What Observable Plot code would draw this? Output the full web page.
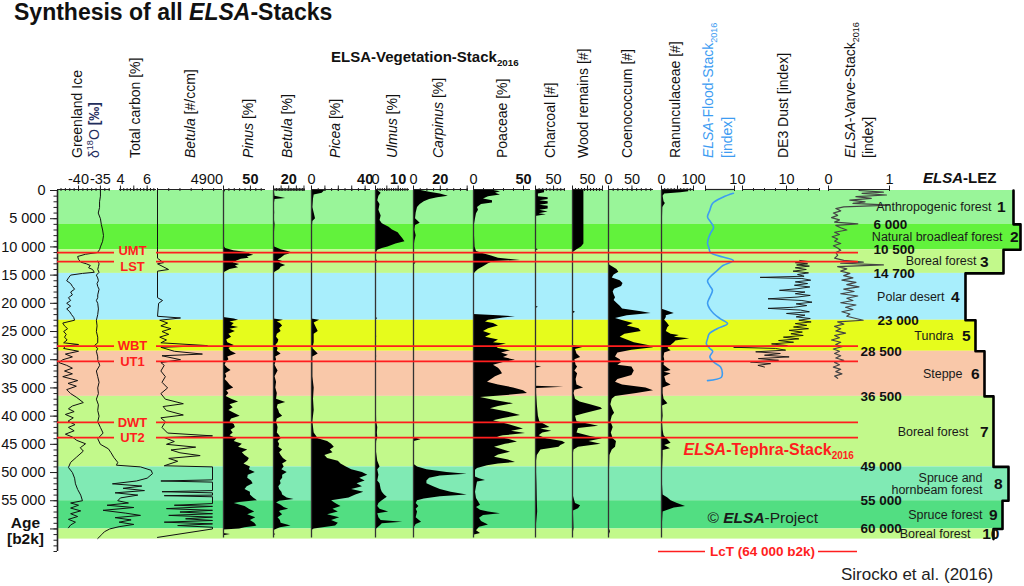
<!DOCTYPE html>
<html><head><meta charset="utf-8">
<script src="https://cdn.jsdelivr.net/npm/d3@7"></script>
<script src="https://cdn.jsdelivr.net/npm/@observablehq/plot@0.6"></script>
<style>
body{margin:0;background:#fff;}
#wrap{position:relative;width:1024px;height:586px;overflow:hidden;font-family:"Liberation Sans",Arial,sans-serif;color:#111;}
#wrap svg{position:absolute;left:0;top:0;background:transparent;}
.h{position:absolute;white-space:nowrap;line-height:1;}
.rot{position:absolute;white-space:nowrap;transform-origin:0 0;transform:rotate(-90deg);font-size:14px;line-height:16px;}
sub,sup{font-size:65%;line-height:0;}
</style></head><body><div id="wrap"></div><script>
// ================= DATA =================
const zoneNames = ["Anthropogenic forest","Natural broadleaf forest","Boreal forest","Polar desert","Tundra","Steppe","Boreal forest","Spruce and\nhornbeam forest","Spruce forest","Boreal forest"];
const zoneStart = [0,6000,10500,14700,23000,28500,36500,49000,55000,60000];
const zoneEnd   = [6000,10500,14700,23000,28500,36500,49000,55000,60000,61800];
const tephraNames = ["UMT","LST","WBT","UT1","DWT","UT2"];
const tephraAges  = [11000,12600,27600,30300,41100,43800];

// [age b2k, value]
const d18O = [[0,-35.0],[1000,-35.0],[2000,-35.2],[3000,-35.2],[4000,-35.5],[5000,-35.0],[6000,-34.8],[7000,-34.5],[8000,-34.3],[9000,-34.5],[10000,-35.0],[10500,-35.2],[11000,-35.7],[11300,-38.4],[11700,-40.2],[12200,-40.0],[12700,-39.5],[13000,-38.2],[13300,-37.3],[13700,-37.7],[14000,-36.8],[14500,-36.4],[14700,-39.1],[15000,-41.8],[15500,-42.3],[16000,-42.7],[16500,-41.8],[17000,-41.4],[17500,-40.9],[18000,-41.8],[18500,-41.4],[19000,-42.3],[19500,-41.8],[20000,-42.7],[20500,-41.8],[21000,-42.7],[21500,-42.0],[22000,-41.6],[22500,-41.1],[23000,-40.9],[23500,-43.6],[24000,-43.2],[24500,-42.5],[25000,-43.4],[25500,-42.8],[26000,-43.2],[26500,-42.6],[27000,-43.4],[27300,-40.0],[27600,-43.0],[28000,-43.4],[28500,-40.0],[29000,-43.0],[29500,-41.4],[30000,-43.6],[30500,-44.5],[31000,-42.7],[31500,-41.4],[32000,-43.2],[32500,-41.4],[33000,-43.6],[33700,-40.2],[34200,-42.4],[34700,-40.5],[35300,-42.7],[36000,-41.8],[36700,-40.4],[37600,-38.9],[38200,-41.4],[38700,-42.3],[39200,-41.0],[39700,-43.0],[40300,-41.2],[40900,-42.4],[41500,-40.8],[42000,-42.3],[42600,-41.0],[43200,-43.0],[43700,-41.4],[44300,-40.4],[44900,-38.4],[45600,-39.6],[46200,-38.9],[47300,-40.5],[48200,-41.8],[49100,-42.3],[50000,-41.4],[51000,-40.9],[52000,-40.7],[53000,-40.2],[54000,-39.5],[55000,-39.1],[55400,-41.8],[55800,-40.0],[56300,-41.8],[56800,-39.5],[57300,-41.8],[57800,-40.2],[58300,-42.3],[58800,-40.7],[59300,-41.8],[59800,-42.3]];
const totalCarbon = [[12500,2.3],[13000,2.4],[13500,2.35],[14000,2.3],[14500,2.4],[15000,2.2],[15500,2.3],[16000,2.35],[16500,2.25],[17000,2.3],[17500,2.4],[18000,2.35],[18500,2.3],[19000,2.3],[19500,2.2],[20000,2.3],[21000,2.35],[22000,2.3],[23000,2.2],[24000,2.25],[25000,2.2],[26000,2.3],[27000,2.3],[27500,2.05],[28000,2.3],[28500,2.2],[29500,2.3],[30000,2.3],[31000,2.45],[32000,2.2],[33000,2.3],[34000,2.4],[35000,2.3],[36000,2.35],[37000,2.2],[38000,2.35],[39000,2.3],[40000,2.4],[41000,2.3],[42000,2.5],[43000,2.7],[44000,2.3],[45000,2.5],[45800,3.1],[46500,3.3],[47300,3.5],[48200,3.8],[48700,3.7],[49000,5.5],[49600,6.3],[50200,6.4],[51000,6.0],[51500,5.2],[52000,3.4],[52400,5.6],[52800,4.2],[53200,5.8],[53600,3.6],[54000,5.3],[54500,4.0],[55000,3.8],[55400,4.6],[55800,3.0],[56200,5.0],[56700,2.7],[57200,4.4],[57600,5.5],[58000,3.6],[58400,4.8],[58800,3.9],[59200,5.0],[59600,3.9],[60000,3.2],[60500,2.8],[61000,2.6],[61700,2.3]];
const betulaConc = [[0,0],[10000,0],[12000,0],[12800,530],[13000,0],[14000,980],[14300,0],[19000,0],[19500,450],[20000,100],[22300,0],[22600,2050],[23000,200],[23500,900],[24000,300],[24500,1200],[25000,400],[25500,1000],[26000,200],[26500,800],[27000,300],[27500,4450],[27800,300],[28500,1500],[29000,4000],[29300,400],[30000,2050],[30500,300],[31000,600],[32000,300],[33000,700],[34000,400],[35000,900],[36000,300],[37000,700],[37800,2300],[38300,500],[39000,800],[39800,2300],[40300,300],[41000,700],[42000,400],[43000,900],[43500,4900],[43800,600],[44500,1500],[45000,800],[45500,3400],[46000,1200],[46500,2000],[47000,3800],[47500,1000],[48000,1800],[48800,600],[49000,4900],[51300,4900],[51500,300],[51700,4900],[53200,4900],[53400,400],[53600,4900],[54000,4900],[54100,600],[54300,4900],[55500,4900],[55800,1500],[56000,4900],[56400,800],[56700,4900],[57000,2000],[57300,4900],[57600,1000],[57900,4900],[58200,2500],[58500,4900],[58800,600],[59100,4900],[59400,1800],[59700,4900],[60000,4900],[61500,0]];
const pinus = [[0,4],[300,2],[1000,1.5],[2000,1],[3000,1.5],[4000,1],[5000,1.5],[6000,1],[7000,1.5],[8000,1],[9000,1.5],[10000,2],[10300,4],[10700,19],[11000,44],[11300,50],[11500,56],[11800,44],[12000,48],[12200,33],[12500,25],[12800,18],[13100,30],[13400,22],[13700,28],[14000,12],[14300,6],[14600,1],[15000,0],[22500,0],[22800,20],[23000,28],[23300,12],[23600,20],[24000,15],[24300,28],[24600,12],[25000,22],[25500,10],[26000,15],[26500,6],[27000,8],[27500,20],[28000,10],[28500,14],[29000,24],[29500,8],[30000,10],[30500,5],[31000,3],[31500,8],[31900,14],[32500,4],[33000,6],[33500,3],[34000,8],[34500,12],[35000,19],[35500,6],[36000,10],[36500,5],[37000,15],[37500,28],[38000,12],[38500,18],[39000,10],[39500,20],[40000,31],[40500,15],[41000,12],[41500,20],[42000,22],[42500,14],[43000,18],[43500,12],[44000,25],[44500,20],[45000,35],[45500,28],[46000,45],[46500,35],[47000,40],[47500,48],[48000,45],[48500,38],[49000,50],[49500,48],[50000,59],[50500,46],[51000,45],[51500,52],[52000,55],[52500,44],[53000,40],[53500,50],[54000,50],[54500,56],[55000,63],[55300,30],[55500,20],[56000,40],[56500,48],[57000,58],[57500,45],[58000,60],[58500,50],[59000,58],[59500,62],[59800,40],[60000,30],[60200,0],[60800,0],[61000,13],[61200,0],[61500,0]];
const betulaPct = [[0,1],[1000,2],[1400,16],[1600,2],[2500,1],[4000,1.5],[5000,1],[6000,2],[8000,1],[10000,1.5],[10500,10],[10800,19],[11000,23],[11300,20],[11500,15],[12000,10],[12300,6],[12600,12],[12900,8],[13300,16],[13600,10],[14000,8],[14500,2],[14800,0],[22800,0],[23000,13],[23300,5],[23600,9],[24000,12],[24500,8],[25000,10],[25500,5],[26000,4],[26500,7],[27000,6],[27500,3],[28000,6],[28500,5],[29000,10],[29500,3],[30000,4],[31000,2],[31500,4],[32000,6],[33000,2],[34000,4],[35000,3],[36000,5],[37000,4],[37600,16],[38000,6],[38500,5],[39000,7],[39500,8],[40000,12],[40500,5],[41000,4],[42000,6],[43000,5],[43500,8],[44000,10],[44500,6],[45000,8],[45500,7],[46000,12],[46500,8],[47000,10],[47500,13],[48000,18],[48500,12],[49000,14],[49500,11],[50000,18],[50500,12],[51000,12],[51500,9],[52000,10],[52500,7],[53000,8],[53500,11],[54000,12],[54500,18],[54800,27],[55100,8],[55400,4],[55800,10],[56200,14],[56500,20],[56800,9],[57000,8],[57500,12],[58000,6],[58500,9],[59000,10],[59500,23],[59800,9],[60000,5],[60300,0],[60800,0],[61000,3],[61200,0],[61500,0]];
const picea = [[0,10],[500,8],[800,2],[1500,1.5],[3000,1],[5000,3],[5500,1],[7000,0.5],[10000,0.3],[12000,0],[22800,0],[23000,6],[23500,2],[24000,3],[25000,5],[25500,2],[27000,2],[28000,1],[29000,5],[29500,1],[31000,1],[33000,1],[35000,2],[37000,1.5],[39000,2],[41000,1],[43000,2],[44000,5],[44500,12],[45000,15],[45500,17],[46000,14],[46500,16],[47000,10],[47500,12],[48000,20],[48500,22],[49000,26],[49500,30],[50000,38],[50500,42],[51000,36],[51500,40],[52000,34],[52500,38],[53000,30],[53500,39],[54000,33],[54500,28],[55000,15],[55500,18],[56000,22],[56500,16],[57000,20],[57500,12],[58000,21],[58500,15],[59000,20],[59500,18],[60000,2],[60300,0],[61500,0]];
const ulmus = [[0,1],[500,2.5],[1000,1.5],[1800,1],[2500,2],[3500,1.5],[4500,2.5],[5300,2],[5900,3],[6500,6],[7000,7.5],[7500,10],[8000,11],[8500,12],[9100,13],[9500,9],[10000,5.5],[10300,3],[10600,1],[11000,0.5],[12000,0.2],[12700,1],[13000,0.2],[22500,0],[22700,1],[23000,0],[26000,0.5],[26500,0],[29500,0.5],[30000,0],[41000,0.5],[42000,1],[43000,0.8],[43800,1],[44500,0.5],[46000,0.3],[48000,1],[49000,2],[49500,1],[50500,1.5],[51500,1],[52000,2],[53000,2.5],[53500,3],[54000,4],[54400,5.2],[55000,3],[55500,1.5],[56000,1],[56500,2],[57000,5.8],[57300,1],[58000,1.5],[58500,2.5],[58800,12],[59100,3],[59500,2],[60000,0.5],[60500,0],[61500,0]];
const carpinus = [[0,5.6],[300,12],[600,20],[1000,26],[1300,18],[1600,12],[2000,8],[2500,5],[3000,3],[4000,2],[5000,1.5],[5800,5],[6200,1.5],[7000,1],[8000,2],[9000,1],[10000,0.5],[11000,0],[12700,0],[12900,2],[13200,0],[38000,0],[38500,0.5],[39000,0],[43800,0],[44200,5.6],[44500,0.5],[45000,0],[48500,0],[49000,3],[49500,10],[50000,25],[50300,40],[50600,20],[51000,12],[51500,10],[52000,10],[52500,15],[53000,20],[53500,28],[54000,40],[54300,20],[54700,8],[55000,3],[55500,2],[56000,4],[56500,2],[57000,3],[58000,2],[58800,6],[59200,2],[60000,0],[61500,0]];
const poaceae = [[0,20],[200,27],[500,22],[800,27],[1100,15],[1500,10],[1800,19],[2200,19],[2500,8],[3000,4],[3500,5],[4100,3],[5000,2],[6000,1],[8000,1],[10000,1.5],[10800,3],[11200,10],[11600,18],[12000,25],[12400,47],[12600,20],[13000,15],[13500,10],[14000,5],[14500,2],[15000,0],[22000,0],[22200,25],[22400,42],[22600,30],[23000,15],[23300,12],[23600,20],[24000,25],[24500,15],[25000,10],[25500,18],[26000,12],[26500,25],[27000,20],[27200,33],[27600,22],[28000,25],[28400,37],[28800,28],[29200,35],[29600,30],[30100,42],[30500,30],[31000,20],[31500,25],[31900,27],[32500,29],[33000,22],[33500,18],[34000,14],[34500,25],[35000,40],[35500,50],[36000,54],[36400,30],[36700,7],[37200,20],[37800,40],[38300,25],[38700,17],[39300,35],[39900,47],[40400,30],[40800,20],[41500,35],[42300,50],[42700,38],[43100,52],[43500,30],[43700,24],[44100,35],[44600,44],[45000,32],[45500,21],[46000,30],[46400,37],[46900,25],[47300,21],[47800,35],[48200,42],[48500,25],[48800,14],[49300,4],[49600,2],[50800,2],[51100,6],[51400,12],[51700,4],[52500,3],[53500,2],[54600,3],[55200,5],[55800,7],[56200,3],[56700,7],[57000,15],[57300,27],[57600,10],[58100,6],[58700,8],[59300,15],[59700,6],[60300,3],[60800,7],[61100,0]];
const charcoal = [[0,25],[400,25],[600,8],[1100,8],[1300,35],[1600,35],[1800,12],[2000,35],[2400,35],[2600,12],[2800,35],[3300,35],[3500,12],[3800,35],[4100,10],[4300,30],[4600,0],[10300,0],[10500,8],[10700,0],[20500,0],[20700,8],[20900,0],[31100,0],[31300,17],[31500,0],[34700,0],[34900,78],[35100,3],[36000,3],[38000,5],[40000,8],[41000,12],[41500,25],[42000,40],[42300,15],[42700,45],[43000,20],[43500,10],[44000,30],[44500,75],[44800,83],[45200,70],[45500,65],[46000,15],[47000,5],[48000,3],[50000,3],[52000,4],[55000,5],[57000,6],[59000,3],[61500,0]];
const woodRemains = [[0,38],[9500,38],[10000,30],[10500,15],[11000,2],[11500,0],[21300,0],[21600,10],[21900,0],[27500,0],[27800,37],[28200,10],[29000,15],[29600,27],[30000,8],[31000,12],[31300,17],[32000,8],[32500,17],[33500,12],[34500,15],[35000,37],[35400,8],[36000,5],[37000,10],[37500,25],[38000,60],[38500,95],[38800,100],[39200,70],[39600,40],[40000,10],[41000,15],[41500,60],[41800,87],[42200,20],[43000,15],[43600,60],[44000,100],[44500,55],[45000,95],[45500,20],[46000,5],[47000,2],[54000,2],[55500,10],[55900,27],[56400,20],[56800,3],[60000,5],[61500,0]];
const coenococcum = [[0,0],[13000,0],[13300,4],[14000,18],[14500,22],[15000,12],[15500,8],[16000,25],[16500,31],[17000,28],[17500,13],[18000,10],[18500,12],[19000,15],[19500,12],[20000,18],[20500,25],[21000,30],[21500,70],[21800,91],[22200,40],[22700,15],[23200,35],[23600,53],[24000,40],[24500,65],[25000,70],[25500,35],[26000,25],[26500,40],[27000,55],[27500,85],[27900,96],[28300,50],[28800,20],[29500,15],[30000,25],[30500,28],[31000,20],[31300,50],[32000,55],[32800,50],[33500,20],[34000,15],[34500,30],[35000,80],[35500,96],[36000,60],[36500,15],[37000,8],[38000,5],[39000,10],[39500,13],[40000,8],[41000,5],[42000,10],[43000,6],[44000,10],[44500,17],[45500,15],[46000,8],[47000,3],[50000,2],[55000,1],[60000,2],[60500,4],[61500,0]];
const ranunculaceae = [[0,85],[200,85],[400,60],[600,10],[1000,5],[2000,8],[2300,12],[3000,4],[5000,3],[8000,2],[10000,3],[12000,1],[14000,0],[21000,0],[21400,20],[21800,40],[22200,15],[22500,15],[23000,10],[23500,18],[24000,25],[24300,20],[25000,15],[25500,30],[25700,56],[26000,40],[26300,88],[26700,45],[27000,40],[27500,30],[28000,20],[28400,30],[28800,10],[29500,8],[30000,10],[31000,8],[31500,20],[31900,30],[32200,8],[32500,30],[33000,10],[34000,15],[34500,30],[35000,5],[36000,5],[37000,8],[37800,20],[38200,3],[40000,5],[41000,3],[42500,5],[43500,8],[44800,30],[45200,10],[45800,28],[46100,5],[47000,5],[50000,3],[52000,3],[54000,5],[54500,20],[55000,30],[55500,50],[56000,75],[56300,40],[56700,20],[57000,5],[59000,3],[61700,0]];
const floodStack = [[500,9.6],[1200,6],[2300,2.4],[3500,1.5],[4700,0.7],[5600,1.8],[6500,2.8],[7500,1.8],[8500,1.0],[9400,0.7],[10200,1.2],[11000,1.7],[11800,6],[12400,9.6],[13300,6],[14200,4],[15100,2],[16000,0.7],[16900,1.5],[17700,2.4],[18900,1.5],[20000,0.7],[21000,1.5],[21800,2.8],[22700,5],[23600,7.6],[24500,4],[25400,1.3],[26300,0.7],[27200,0.3],[28000,1.5],[28500,2.5],[29500,1.5],[30500,3],[31300,5.2],[32300,5.8],[33100,5.5],[33700,0.7]];
const de3Dust = [[12400,13],[12600,15],[12800,12],[13000,14.8],[13200,12.3],[13400,15.2],[13700,12],[14000,14.5],[14300,11.5],[14600,15],[14900,12.5],[15200,14],[15400,4],[15600,13.5],[15900,15.5],[16200,12],[16500,14.8],[16800,11.8],[17100,15.3],[17400,12.6],[17700,8.4],[18000,14.2],[18300,12],[18600,15.4],[18900,12.4],[19200,5.8],[19500,13.5],[19800,15.8],[20100,12.2],[20400,14.6],[20700,11.6],[20900,5.8],[21200,13.2],[21500,15.2],[21800,10],[22100,14.2],[22400,12.2],[22700,15.4],[23000,12.8],[23300,15.6],[23600,12],[23900,14.6],[24200,11.6],[24500,15],[24800,10.6],[25100,13.6],[25400,11],[25700,13.8],[26000,9.3],[26300,12.8],[26600,8.2],[26900,11.6],[27200,6.6],[27500,10.2],[27800,-2],[28000,7.5],[28300,9.8],[28600,3],[28900,8.6],[29200,5],[29500,10.6],[29800,3.6],[30100,8.2],[30400,1.8],[30700,6.4],[31000,3.5],[31300,5]];
const varveStack = [[0,0.5],[300,0.9],[500,0.55],[800,0.95],[1100,0.45],[1400,0.7],[1700,0.35],[2000,0.6],[2300,0.4],[2600,1.0],[2900,0.25],[3200,0.12],[3600,0.2],[4000,0.08],[4400,0.15],[4800,0.05],[5200,0.18],[5600,0.1],[5900,0.48],[6200,0.12],[6600,0.2],[7000,0.3],[7400,0.1],[7800,0.18],[8200,0.06],[8600,0.15],[9000,0.1],[9400,0.2],[9800,0.08],[10200,0.15],[10600,0.2],[11000,0.12],[11500,0.15],[12000,0.1],[12400,0.25],[12700,0.57],[12900,0.2],[13200,0.9],[13500,0.15],[13900,0.3],[14300,0.2],[14700,0.35],[15100,0.25],[15500,0.4],[15900,0.22],[16300,0.45],[16700,0.3],[17100,0.5],[17500,0.25],[17900,0.42],[18300,0.2],[18700,0.48],[19100,0.3],[19500,0.4],[19900,0.2],[20300,0.45],[20700,0.28],[21100,0.4],[21500,0.22],[21900,0.35],[22300,0.3],[22700,0.45],[23000,0.57],[23300,0.15],[23700,0.25],[24100,0.1],[24500,0.2],[24900,0.12],[25300,0.28],[25700,0.1],[26100,0.18],[26500,0.05],[26900,0.2],[27300,0.12],[27700,0.22],[28100,0.08],[28500,0.18],[28900,0.1],[29300,0.2],[29700,0.12],[30100,0.25],[30500,0.1],[30900,0.18],[31300,0.08],[31700,0.2],[32100,0.12],[32500,0.22],[32900,0.1],[33300,0.15]];

// ================= LAYOUT & STYLE =================
const W = 1024, H = 586, TOP = 190, BOTTOM = 35, AGE_MAX = 64000;
const RED = "#ff1e1e";
const FONT = "'Liberation Sans', Arial, sans-serif";
const LAYOUT = {
  axisX: 57,
  zoneRight: [1013,1020,1003,965,975,984,993,1008,1002,993],
  zoneColors: ["#99f599","#62f23c","#c2f98b","#a8eefc","#e6fc1c","#f9c8a9","#c2f98b","#80eab4","#52de82","#c2f98b"],
  nameEnd: [991,1002,976,944,953,962,968,982,982,970],
  numEnd: [1005,1018,988,959,970,979,988,1002,997,999],
  bndX: [873,873,873,877,860,860,860,860,860],
  tephraLeft: [57,114], tephraRight: [156,858], tephraLabelX: 132,
  tephraLabelShift: [-250,950,0,0,0,0]
};
const fmt = d => d3.format(",")(d).replace(/,/g, " ");

const wrap = document.getElementById("wrap");
const yOpt = {domain: [0, AGE_MAX], reverse: true, axis: null};
const common = {width: W, height: H, marginTop: TOP, marginBottom: BOTTOM, marginRight: 0,
  style: {background: "transparent", overflow: "visible", fontFamily: FONT}};

// ---------- base: zones + age axis ----------
const zones = zoneStart.map((s, i) => ({start: s, end: zoneEnd[i], name: zoneNames[i], num: i + 1, mid: (s + zoneEnd[i]) / 2,
  right: LAYOUT.zoneRight[i], color: LAYOUT.zoneColors[i], nameEnd: LAYOUT.nameEnd[i], numEnd: LAYOUT.numEnd[i]}));
const outline = zones.flatMap(z => [{x: z.right, y: z.start}, {x: z.right, y: z.end}]);

const base = Plot.plot({...common, marginLeft: LAYOUT.axisX,
  x: {domain: [0, W], range: [0, W], axis: null}, y: yOpt,
  marks: [
    Plot.rect(zones, {x1: LAYOUT.axisX, x2: "right", y1: "start", y2: "end", fill: "color"}),
    Plot.ruleX([LAYOUT.axisX], {y1: 0, y2: AGE_MAX, stroke: "#222", strokeWidth: 1.6}),
    Plot.axisY({anchor: "left", ticks: d3.range(0, AGE_MAX + 1, 1000), tickSize: 3.5, tickFormat: () => "", label: null, stroke: "#222"}),
    Plot.axisY({anchor: "left", ticks: d3.range(0, 60001, 5000), tickSize: 7, tickPadding: 5, tickFormat: d => d >= 60000 ? "" : fmt(d), fontSize: 14.5, label: null, stroke: "#222"}),
    Plot.text(["Age\n[b2k]"], {x: 25, y: 60300, fontWeight: "bold", fontSize: 15.5, lineHeight: 1.05, fill: "#111"})
  ]});
wrap.appendChild(base);

// ---------- panels ----------
const panels = [
 {data: d18O, type: "line", domain: [-44.8, -32.7], range: [57, 110], minor: d3.range(-44, -32.9, 1), major: [-40, -35], labels: [[-40, "-40"], [-35, "-35"]], stroke: "#111", sw: 1},
 {data: totalCarbon, type: "line", domain: [3.93, 6.7], range: [119, 156], minor: d3.range(4, 6.6, 0.25), major: [4, 5, 6], labels: [[4, "4"], [6, "6"]], stroke: "#111", sw: 1},
 {data: betulaConc, type: "line", domain: [0, 5790], range: [157, 222], minor: d3.range(0, 5001, 1000), major: [], labels: [[4400, "4900"]], stroke: "#111", sw: 1},
 {data: pinus, type: "area", domain: [0, 78], range: [223, 265], minor: d3.range(0, 71, 10), major: [0, 50], labels: [[50, "50", 1]]},
 {data: betulaPct, type: "area", domain: [0, 42], range: [273, 305], minor: d3.range(0, 41, 2), major: [0, 10, 20, 30, 40], labels: [[20, "20", 1]]},
 {data: picea, type: "area", domain: [0, 44], range: [311, 370], minor: d3.range(0, 41, 5), major: [0, 10, 20, 30, 40], labels: [[0, "0"], [40, "40", 1]]},
 {data: ulmus, type: "area", domain: [0, 15], range: [375, 409], minor: d3.range(0, 15, 1), major: [0, 5, 10], labels: [[0, "0"], [10, "10", 1]]},
 {data: carpinus, type: "area", domain: [0, 41], range: [413, 468], minor: d3.range(0, 41, 5), major: [0, 20, 40], labels: [[0, "0"], [20, "20", 1]]},
 {data: poaceae, type: "area", domain: [0, 57], range: [473, 530], minor: d3.range(0, 51, 10), major: [0, 50], labels: [[0, "0"], [50, "50", 1]]},
 {data: charcoal, type: "area", domain: [0, 83], range: [535, 565], minor: d3.range(0, 81, 10), major: [0, 50], labels: [[50, "50"]]},
 {data: woodRemains, type: "area", domain: [0, 100], range: [572, 602], minor: d3.range(0, 101, 10), major: [0, 50, 100], labels: [[50, "50"]]},
 {data: coenococcum, type: "area", domain: [0, 96], range: [608, 653], minor: d3.range(0, 91, 10), major: [0, 50], labels: [[0, "0"], [50, "50"]]},
 {data: ranunculaceae, type: "area", domain: [0, 100], range: [661, 693], minor: d3.range(0, 101, 10), major: [0, 50, 100], labels: [[0, "0"], [100, "100"]]},
 {data: floodStack, type: "line", domain: [0, 10], range: [705, 734], minor: [0, 10], major: [0, 10], labels: [[11, "10"]], stroke: "#3d9cf2", sw: 1.6, curve: "catmull-rom"},
 {data: de3Dust, type: "line", domain: [0, 17.5], range: [742, 819], minor: d3.range(0, 17.6, 2.5), major: [0, 10], labels: [[10, "10"]], stroke: "#111", sw: 0.9},
 {data: varveStack, type: "line", domain: [0, 1], range: [828, 889], minor: [0, 1], major: [0, 1], labels: [[0, "0"], [1, "1"]], stroke: "#444", sw: 1.2}
];

for (const p of panels) {
  const marks = [
    Plot.ruleY([0], {x1: p.domain[0], x2: p.domain[1], dy: -1, stroke: "#222", strokeWidth: 1.2}),
    Plot.axisX({anchor: "top", ticks: p.minor, tickSize: 3, tickFormat: () => "", label: null, stroke: "#222"}),
    Plot.axisX({anchor: "top", ticks: p.major, tickSize: 5.5, tickFormat: () => "", label: null, stroke: "#222"}),
    Plot.text(p.labels.filter(d => !d[2]), {x: d => d[0], text: d => d[1], frameAnchor: "top", dy: -17, fontSize: 14.5, fill: "#111"}),
    Plot.text(p.labels.filter(d => d[2]), {x: d => d[0], text: d => d[1], frameAnchor: "top", dy: -17, fontSize: 14.5, fontWeight: "bold", fill: "#111"})
  ];
  if (p.type === "area") {
    marks.push(Plot.areaX(p.data, {y: d => d[0], x: d => d[1], fill: "#000"}));
    marks.push(Plot.ruleX([0], {y1: 0, y2: 61600, stroke: "#333", strokeWidth: 1.3}));
  } else {
    marks.push(Plot.line(p.data, {y: d => d[0], x: d => d[1], stroke: p.stroke, strokeWidth: p.sw, curve: p.curve || "linear"}));
  }
  const svg = Plot.plot({...common, marginLeft: 0,
    x: {domain: p.domain, range: p.range}, y: yOpt, marks});
  wrap.appendChild(svg);
}

// ---------- annotations ----------
const tephra = tephraNames.map((n, i) => ({name: n, age: tephraAges[i], labelAge: tephraAges[i] + LAYOUT.tephraLabelShift[i]}));
const ann = Plot.plot({...common, marginLeft: 0,
  x: {domain: [0, W], range: [0, W], axis: null}, y: yOpt,
  marks: [
    Plot.line(outline, {x: "x", y: "y", stroke: "#000", strokeWidth: 2.6}),
    Plot.ruleY(tephra, {y: "age", x1: LAYOUT.tephraLeft[0], x2: LAYOUT.tephraLeft[1], stroke: RED, strokeWidth: 1.8}),
    Plot.ruleY(tephra, {y: "age", x1: LAYOUT.tephraRight[0], x2: LAYOUT.tephraRight[1], stroke: RED, strokeWidth: 1.8}),
    Plot.text(tephra, {x: LAYOUT.tephraLabelX, y: "labelAge", text: "name", fill: RED, fontWeight: "bold", fontSize: 13}),
    Plot.ruleY([AGE_MAX], {x1: 658, x2: 705, stroke: RED, strokeWidth: 1.3}),
    Plot.ruleY([AGE_MAX], {x1: 818, x2: 857, stroke: RED, strokeWidth: 1.3}),
    Plot.text(["LcT (64 000 b2k)"], {x: 762, y: AGE_MAX, fill: RED, fontWeight: "bold", fontSize: 13.5}),
    Plot.text(["ELSA-Tephra-Stack2016"], {x: 683, y: 45900, textAnchor: "start", fill: RED, fontWeight: "bold", fontSize: 16}),
    Plot.text(["© ELSA-Project"], {x: 707, y: 58000, textAnchor: "start", fill: "#1a1a1a", fontSize: 15.5}),
    Plot.text(zones, {x: "nameEnd", y: "mid", text: "name", textAnchor: "end", fontSize: 12.5, lineHeight: 0.98, fill: "#1a1a1a"}),
    Plot.text(zones, {x: "numEnd", y: "mid", text: d => String(d.num), textAnchor: "end", fontSize: 15.5, fontWeight: "bold", fill: "#111"}),
    Plot.text(zoneStart.slice(1), {x: (d, i) => LAYOUT.bndX[i], y: d => d, text: fmt, textAnchor: "start", fontSize: 13.5, fontWeight: "bold", fill: "#111"})
  ]});
wrap.appendChild(ann);

// rich text replacements
const rich = {
  "ELSA-Tephra-Stack2016": '<tspan font-style="italic">ELSA</tspan>-Tephra-Stack<tspan font-size="10" dy="4">2016</tspan>',
  "© ELSA-Project": '© <tspan font-weight="bold" font-style="italic">ELSA</tspan>-Project'
};
wrap.querySelectorAll("text").forEach(t => { if (rich[t.textContent] && !t.children.length) t.innerHTML = rich[t.textContent]; });

// ---------- HTML headings ----------
function hdiv(html, left, top, size, extra) {
  const d = document.createElement("div");
  d.className = "h"; d.innerHTML = html;
  Object.assign(d.style, {left: left + "px", top: top + "px", fontSize: size + "px"}, extra || {});
  wrap.appendChild(d);
}
hdiv('Synthesis of all <i>ELSA</i>-Stacks', 14, 0.5, 23, {fontWeight: "bold"});
hdiv('ELSA-Vegetation-Stack<sub>2016</sub>', 331, 49.3, 15, {fontWeight: "bold"});
hdiv('<i>ELSA</i>-LEZ', 923, 170.3, 15, {fontWeight: "bold"});
hdiv('Sirocko et al. (2016)', 841, 565.6, 17, {color: "#222"});

const vlabels = [
  ["Greenland Ice", 77], ['δ<sup>18</sup>O <b>[‰]</b>', 94, "#1f2d5c"], ["Total carbon [%]", 135],
  ["<i>Betula</i> [#/ccm]", 190], ["<i>Pinus</i> [%]", 248], ["<i>Betula</i> [%]", 287], ["<i>Picea</i> [%]", 335],
  ["<i>Ulmus</i> [%]", 392], ["<i>Carpinus</i> [%]", 438], ["Poaceae [%]", 502], ["Charcoal [#]", 550],
  ["Wood remains [#]", 583], ["Coenococcum [#]", 627], ["Ranunculaceae [#]", 675],
  ["<i>ELSA</i>-Flood-Stack<sub>2016</sub>", 708, "#3d9cf2"], ["[index]", 727, "#3d9cf2"],
  ["DE3 Dust [index]", 783], ["<i>ELSA</i>-Varve-Stack<sub>2016</sub>", 850], ["[index]", 868]
];
for (const [html, cx, color] of vlabels) {
  const d = document.createElement("div");
  d.className = "rot"; d.innerHTML = html;
  Object.assign(d.style, {left: (cx - 8.5) + "px", top: "158px", color: color || "#111"});
  wrap.appendChild(d);
}
</script></body></html>
